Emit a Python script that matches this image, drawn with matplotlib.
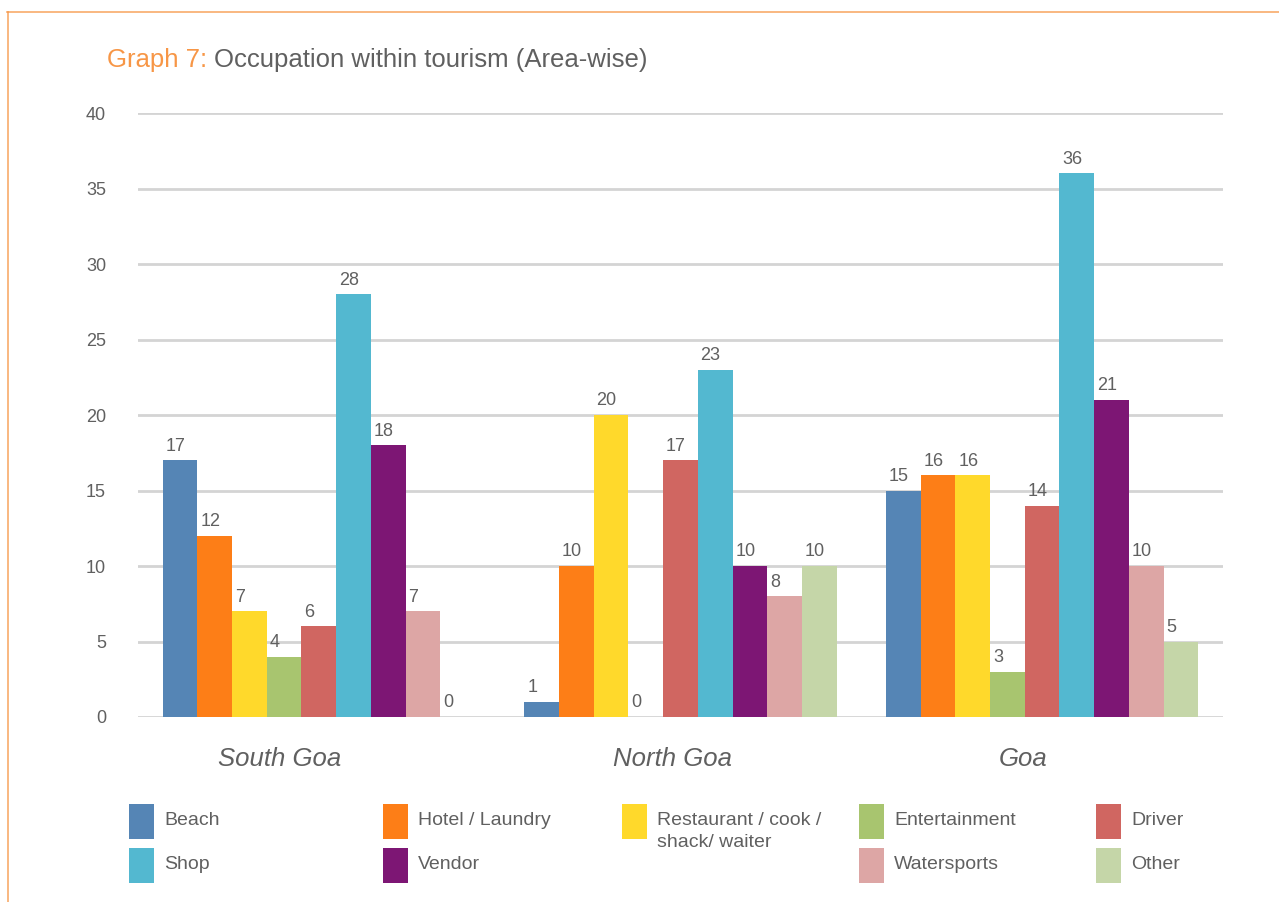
import numpy as np
import matplotlib.pyplot as plt
from matplotlib.patches import Rectangle
from matplotlib.lines import Line2D

plt.rcParams['font.family'] = ['Liberation Sans', 'DejaVu Sans']

areas = ["South Goa", "North Goa", "Goa"]
occupations = ["Beach", "Hotel / Laundry", "Restaurant / cook /\nshack/ waiter",
               "Entertainment", "Driver", "Shop", "Vendor", "Watersports", "Other"]
colors = ["#5585b5", "#fd7e17", "#ffd92b", "#a8c56f", "#d06661",
          "#53b8d0", "#7d1674", "#dda6a5", "#c5d6a8"]

beach = [17, 1, 15]
hotel = [12, 10, 16]
restaurant = [7, 20, 16]
entertainment = [4, 0, 3]
driver = [6, 17, 14]
shop = [28, 23, 36]
vendor = [18, 10, 21]
watersports = [7, 8, 10]
other = [0, 10, 5]
series = [beach, hotel, restaurant, entertainment, driver, shop, vendor, watersports, other]

yticks = [0, 5, 10, 15, 20, 25, 30, 35, 40]

grey = "#606060"
orange = "#f79646"
W, H = 1279, 902

fig = plt.figure(figsize=(12.79, 9.02), dpi=100)
ax = fig.add_axes([0.1079, 0.2051, 0.8483, 0.6696])

x = np.arange(len(areas))
w = 0.0959
n = len(series)
for i, vals in enumerate(series):
    pos = x + (i - (n - 1) / 2) * w
    ax.bar(pos, vals, width=w, color=colors[i], linewidth=0, zorder=3)
    for p, v in zip(pos, vals):
        ax.annotate(str(v), xy=(p - w / 2, v), xytext=(2, 4), textcoords="offset points",
                    ha="left", va="bottom", fontsize=13, color=grey, zorder=4)

ax.set_xlim(-0.5, 2.5)
ax.set_ylim(0, 40)
ax.set_yticks(yticks)
ax.set_yticklabels([str(t) for t in yticks])
ax.tick_params(axis="y", length=0, pad=23, labelsize=13, labelcolor=grey)
ax.set_xticks([])
# category names sit a little left of the group centres in the original
nudge = [-39, -8, -19]
for xi, name, dx in zip(x, areas, nudge):
    ax.annotate(name, xy=(xi, 0), xytext=(dx * 0.72, -30), textcoords="offset points",
                ha="center", va="center", fontsize=18.5, style="italic", color=grey)
for t in yticks:
    ax.axhline(t, color="#d4d4d4", linewidth=2, zorder=1)
for s in ax.spines.values():
    s.set_visible(False)

# title
t1 = fig.text(107 / W, 1 - 60 / H, "Graph 7: ", color=orange, fontsize=18.5,
              va="center", ha="left")
fig.canvas.draw()
bb = t1.get_window_extent()
fig.text(bb.x1 / fig.bbox.width, 1 - 60 / H, "Occupation within tourism (Area-wise)",
         color=grey, fontsize=18.5, va="center", ha="left")

# border
fig.add_artist(Line2D([7 / W, 1], [1 - 12 / H] * 2, color=orange, linewidth=1.2, alpha=0.8))
fig.add_artist(Line2D([8 / W] * 2, [0, 1 - 12 / H], color=orange, linewidth=1.2, alpha=0.8))

# legend, laid out by hand (5 columns, 2 rows)
col_x = [129, 383, 622, 859, 1096]
row_y = [804, 848]
slots = [(0, 0), (1, 0), (2, 0), (3, 0), (4, 0), (0, 1), (1, 1), (3, 1), (4, 1)]
for i, (c, r) in enumerate(slots):
    x0 = col_x[c]
    y0 = row_y[r]
    fig.add_artist(Rectangle((x0 / W, 1 - (y0 + 35) / H), 25 / W, 35 / H,
                             transform=fig.transFigure, facecolor=colors[i], edgecolor="none"))
    fig.text((x0 + 35) / W, 1 - (y0 + 8) / H, occupations[i], color=grey, fontsize=14,
             ha="left", va="top", linespacing=1.4)

fig.savefig("out.png", dpi=100)
